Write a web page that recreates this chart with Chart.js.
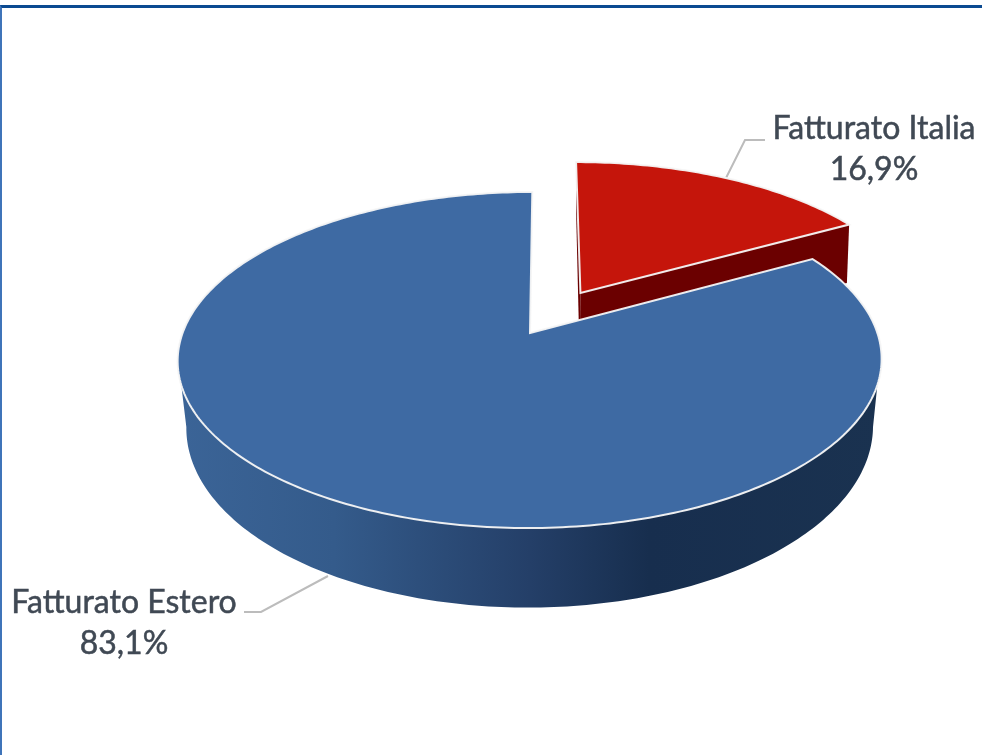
<!DOCTYPE html>
<html>
<head>
<meta charset="utf-8">
<title>Fatturato</title>
<script src="https://cdn.jsdelivr.net/npm/chart.js@4"></script>
<style>
    html, body { margin: 0; background: #fff; overflow: hidden; }
    #frame { position: absolute; left: 0; top: 5px; width: 980px; height: 747px; border-top: 3px solid #0b4a91; border-left: 2px solid #3f74b9; box-sizing: content-box; }
    #chart-container { position: absolute; left: 0; top: 0; width: 982px; height: 755px; }
</style>
</head>
<body>
<div id="frame"></div>
<div id="chart-container"><canvas id="revenue-chart"></canvas></div>
<script>
const categories = ["Fatturato Italia", "Fatturato Estero"];
const values = [16.9, 83.1];
const sliceColors = ["#c5150b", "#3e6aa3"];
const wallColors = ["#6b0000", "#1b3454"];

// the pie is a tilted disc, so both faces go through a small perspective projection
const topFace = { cx: 530, cy: 333, a: 163.7, b: 347.4, k: 0.1607, tilt: 2.3 };
const bottomFace = { cx: 530, cy: 402, a: 177, b: 340, k: 0.139, tilt: 2.3 };
const EXPLODE = 0.295;

function project(face, theta, shift, radius = 1){
    const u = radius * Math.sin(theta) + shift.u;
    const v = -radius * Math.cos(theta) + shift.v;
    const d = 1 - face.k * v;
    return { x: face.cx + face.b * u / d - face.tilt * v, y: face.cy + face.a * v / d };
}

function traceRim(ctx, face, from, to, shift, first){
    const steps = Math.max(8, Math.ceil(Math.abs(to - from) * 60));
    for(let i = 0; i <= steps; i++){
        const p = project(face, from + (to - from) * i / steps, shift);
        if(i === 0 && first) ctx.moveTo(p.x, p.y);
        else ctx.lineTo(p.x, p.y);
    }
}

function drawTop(ctx, from, to, shift, color){
    const apex = project(topFace, 0, shift, 0);
    ctx.beginPath();
    ctx.moveTo(apex.x, apex.y);
    traceRim(ctx, topFace, from, to, shift, false);
    ctx.closePath();
    ctx.fillStyle = color;
    ctx.fill();
    ctx.strokeStyle = "rgba(245,245,245,0.95)";
    ctx.lineWidth = 2;
    ctx.stroke();
}

function drawCutWall(ctx, theta, shift, color){
    const pts = [
        project(topFace, 0, shift, 0),
        project(topFace, theta, shift),
        project(bottomFace, theta, shift),
        project(bottomFace, 0, shift, 0),
    ];
    ctx.beginPath();
    pts.forEach((p, i) => i ? ctx.lineTo(p.x, p.y) : ctx.moveTo(p.x, p.y));
    ctx.closePath();
    ctx.fillStyle = color;
    ctx.fill();
}

function drawFrontWall(ctx, shift){
    const gradient = ctx.createLinearGradient(180, 0, 880, 0);
    gradient.addColorStop(0, "#3b6497");
    gradient.addColorStop(0.22, "#345b8b");
    gradient.addColorStop(0.5, "#243f68");
    gradient.addColorStop(0.67, "#172e4e");
    gradient.addColorStop(1, "#1a3250");
    ctx.beginPath();
    traceRim(ctx, topFace, 107.6 * Math.PI / 180, 252.4 * Math.PI / 180, shift, true);
    traceRim(ctx, bottomFace, 262 * Math.PI / 180, 98 * Math.PI / 180, shift, false);
    ctx.closePath();
    ctx.fillStyle = gradient;
    ctx.fill();
}

function drawLeader(ctx, points){
    ctx.beginPath();
    points.forEach(([x, y], i) => i ? ctx.lineTo(x, y) : ctx.moveTo(x, y));
    ctx.strokeStyle = "#bcbcbc";
    ctx.lineWidth = 2;
    ctx.stroke();
}

function drawLabel(ctx, index, x, y){
    const percent = values[index].toFixed(1).replace(".", ",") + "%";
    ctx.fillStyle = "#404954";
    ctx.strokeStyle = "#404954";
    ctx.lineWidth = 0.5;
    ctx.font = "32px Lato, sans-serif";
    ctx.textAlign = "center";
    ctx.textBaseline = "alphabetic";
    ctx.fillText(categories[index], x, y);
    ctx.strokeText(categories[index], x, y);
    ctx.fillText(percent, x, y + 41);
    ctx.strokeText(percent, x, y + 41);
}

const pie3d = {
    id: "pie3d",
    beforeDatasetDraw(chart){
        const ctx = chart.ctx;
        const [italia, estero] = chart.getDatasetMeta(0).data;
        const start = (arc) => arc.startAngle + Math.PI / 2;
        const end = (arc) => arc.endAngle + Math.PI / 2;

        const mid = (start(italia) + end(italia)) / 2;
        const out = { u: EXPLODE * Math.sin(mid), v: -EXPLODE * Math.cos(mid) };
        const still = { u: 0, v: 0 };

        ctx.save();
        drawLeader(ctx, [[726, 178], [745, 140], [765, 140]]);
        drawCutWall(ctx, start(italia), out, wallColors[0]);
        drawCutWall(ctx, end(italia), out, wallColors[0]);
        drawTop(ctx, start(italia), end(italia), out, sliceColors[0]);
        drawLeader(ctx, [[328, 576], [261, 612], [244, 612]]);
        drawFrontWall(ctx, still);
        drawTop(ctx, start(estero), end(estero), still, sliceColors[1]);
        drawLabel(ctx, 0, 874, 139);
        drawLabel(ctx, 1, 124, 613);
        ctx.restore();
        return false;
    },
};

new Chart(document.getElementById("revenue-chart"), {
    type: "pie",
    data: {
        labels: categories,
        datasets: [{
            data: values,
            backgroundColor: sliceColors,
        }],
    },
    options: {
        responsive: true,
        maintainAspectRatio: false,
        animation: false,
        events: [],
        plugins: {
            legend: { display: false },
            tooltip: { enabled: false },
        },
    },
    plugins: [pie3d],
});
</script>
</body>
</html>
